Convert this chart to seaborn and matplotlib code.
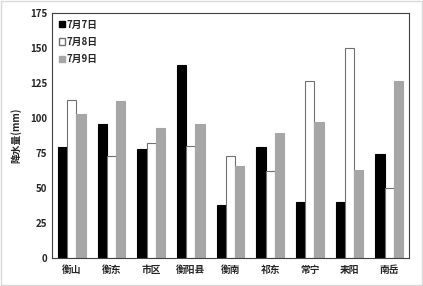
import pandas as pd
import seaborn as sns
import matplotlib.pyplot as plt

# data
stations = ["衡山", "衡东", "市区", "衡阳县", "衡南", "祁东", "常宁", "耒阳", "南岳"]
rain_0707 = [79, 96, 78, 138, 38, 79, 40, 40, 74]
rain_0708 = [113, 73, 82, 80, 73, 62, 126, 150, 50]
rain_0709 = [103, 112, 93, 96, 66, 89, 97, 63, 126]
days = ["7月7日", "7月8日", "7月9日"]

df = pd.DataFrame({"站点": stations * 3,
                   "日期": [d for d in days for _ in stations],
                   "降水量": rain_0707 + rain_0708 + rain_0709})

sns.set_style("white")
plt.rcParams['font.family'] = ['Noto Sans CJK SC', 'DejaVu Sans']
plt.rcParams['font.weight'] = 'bold'

fig = plt.figure(figsize=(4.23, 2.86), dpi=100)
ax = fig.add_axes([0.123, 0.098, 0.844, 0.857])
pal = {"7月7日": "black", "7月8日": "white", "7月9日": "#a6a6a6"}
sns.barplot(data=df, x="站点", y="降水量", hue="日期", palette=pal,
            width=0.7, gap=0.0, ax=ax, saturation=1)

edges = {"7月7日": "black", "7月8日": "#707070", "7月9日": "#a6a6a6"}
for cont, d in zip(ax.containers, days):
    for b in cont:
        b.set_edgecolor(edges[d])
        b.set_linewidth(0.8)

ax.set_ylim(0, 175)
ax.set_yticks(range(0, 176, 25))
ax.set_xlabel("")
ax.set_ylabel("降水量(mm)", fontsize=7, fontweight='bold', labelpad=6)
ax.tick_params(axis='both', labelsize=7, length=0)
ax.tick_params(axis='x', pad=5)
for lab in ax.get_xticklabels() + ax.get_yticklabels():
    lab.set_fontweight('bold')
for s in ax.spines.values():
    s.set_color("#404040")
    s.set_linewidth(0.8)

leg = ax.legend(loc="upper left", frameon=False, fontsize=7, handlelength=0.6,
                handleheight=0.6, handletextpad=0.2, labelspacing=0.75,
                borderaxespad=0.3)
for h, d in zip(leg.legend_handles, days):
    h.set_edgecolor(edges[d])
for t in leg.get_texts():
    t.set_fontweight('bold')

fig.patches.append(plt.Rectangle((0.003, 0.003), 0.994, 0.994, transform=fig.transFigure,
                                 fill=False, edgecolor="#d9d9d9", linewidth=1))
fig.savefig("out.png", dpi=100)
